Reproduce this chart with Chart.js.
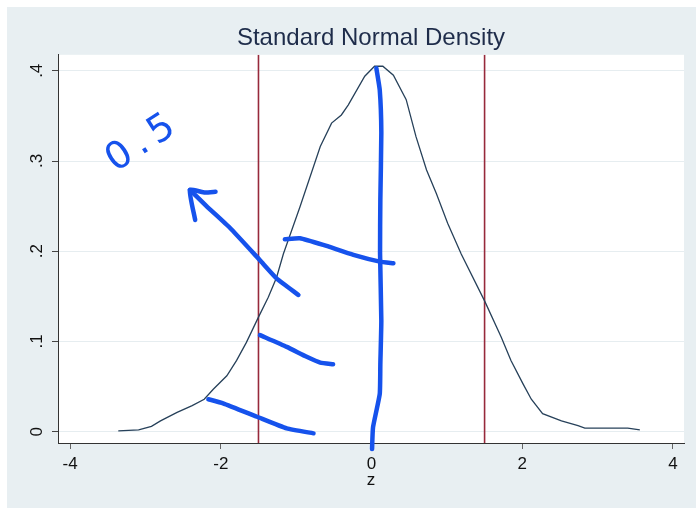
<!DOCTYPE html>
<html>
<head>
<meta charset="utf-8">
<title>Standard Normal Density</title>
<script src="https://cdn.jsdelivr.net/npm/chart.js@4/dist/chart.umd.min.js"></script>
<style>
  html, body { margin: 0; padding: 0; background: #fff; }
  canvas { display: block; }
</style>
</head>
<body>
<canvas id="chart" width="696" height="508"></canvas>
<script>
// density curve
const densityX = [-3.36, -3.09, -2.92, -2.80, -2.58, -2.38, -2.22, -2.10, -1.92, -1.79, -1.66, -1.50, -1.37, -1.26, -1.17,
                  -0.95, -0.68, -0.53, -0.40, -0.31, -0.09, 0.04, 0.15, 0.29, 0.46, 0.59, 0.73, 0.86, 1.01, 1.19,
                  1.50, 1.72, 1.85, 2.01, 2.12, 2.27, 2.52, 2.74, 2.83, 3.40, 3.56];
const densityY = [0.001, 0.002, 0.006, 0.012, 0.0215, 0.029, 0.036, 0.047, 0.062, 0.079, 0.099, 0.127, 0.149, 0.171, 0.197,
                  0.249, 0.316, 0.342, 0.351, 0.362, 0.394, 0.405, 0.405, 0.395, 0.368, 0.327, 0.290, 0.264, 0.231, 0.197,
                  0.145, 0.105, 0.079, 0.053, 0.036, 0.020, 0.012, 0.0067, 0.004, 0.004, 0.002];

// vertical reference lines
const cutoffs = [-1.5, 1.5];

const xTicks = [-4, -2, 0, 2, 4];
const yTicks = [0, 0.1, 0.2, 0.3, 0.4];

// hand-drawn pen marks on top of the graph, as [z, density]
const penArrow = [[-0.97, 0.1516], [-1.26, 0.170], [-1.48, 0.190], [-1.88, 0.226], [-2.19, 0.250], [-2.41, 0.268]];
const penArrowHead = [[-2.34, 0.2347], [-2.41, 0.268], [-2.21, 0.265], [-2.07, 0.266]];
const penUpper = [[-1.15, 0.2133], [-0.95, 0.2144], [-0.64, 0.207], [-0.24, 0.196], [0.11, 0.1885], [0.29, 0.1867]];
const penMiddle = [[-1.48, 0.107], [-1.125, 0.094], [-0.86, 0.083], [-0.68, 0.0765], [-0.51, 0.0747]];
const penLower = [[-2.165, 0.036], [-1.97, 0.0315], [-1.52, 0.0166], [-1.125, 0.0037], [-0.77, -0.0018]];
const penVertical = [[0.064, 0.4029], [0.109, 0.3788], [0.130, 0.3312], [0.117, 0.2569], [0.113, 0.1981],
                     [0.130, 0.1231], [0.117, 0.0751], [0.109, 0.0418], [0.020, 0.0049], [0.007, -0.0192]];
const penNote = { text: '0.5', x: -3.02, y: 0.321 };

const xMin = -4.16, xMax = 4.146;
const yMin = -0.0125, yMax = 0.4177;

const outerBg = '#e8eff2';
const penBlue = '#1652ec';

function toPoints(pairs) {
    return pairs.map(p => ({ x: p[0], y: p[1] }));
}

function penDataset(pairs) {
    return {
        data: toPoints(pairs),
        borderColor: penBlue,
        borderWidth: 4.5,
        borderCapStyle: 'round',
        borderJoinStyle: 'round',
        tension: 0.15,
        pointRadius: 0,
        clip: false,
        order: 0
    };
}

const paperPlugin = {
    id: 'paper',
    beforeDraw(chart) {
        const { ctx, chartArea: a } = chart;
        ctx.save();
        ctx.fillStyle = '#fff';
        ctx.fillRect(0, 0, chart.width, chart.height);
        ctx.fillStyle = outerBg;
        ctx.fillRect(7, 7, chart.width - 7, chart.height - 7);
        ctx.fillStyle = '#fff';
        ctx.fillRect(a.left, a.top, a.right - a.left, a.bottom - a.top);
        ctx.restore();
    },
    afterDatasetsDraw(chart) {
        // handwritten note
        const { ctx, scales } = chart;
        const px = scales.x.getPixelForValue(penNote.x);
        const py = scales.y.getPixelForValue(penNote.y);
        ctx.save();
        ctx.translate(px, py);
        ctx.rotate(-33 * Math.PI / 180);
        ctx.font = '38px "DejaVu Sans"';
        ctx.letterSpacing = '7px';
        ctx.textAlign = 'center';
        ctx.textBaseline = 'middle';
        ctx.fillStyle = penBlue;
        ctx.fillText(penNote.text, 0, 0);
        ctx.restore();
    }
};

const cutoffSets = cutoffs.map(c => ({
    data: [{ x: c, y: yMin }, { x: c, y: yMax }],
    borderColor: '#97293b',
    borderWidth: 1.6,
    pointRadius: 0,
    order: 2
}));

new Chart(document.getElementById('chart'), {
    type: 'line',
    data: {
        datasets: [
            {
                data: densityX.map((x, i) => ({ x: x, y: densityY[i] })),
                borderColor: '#27415a',
                borderWidth: 1.3,
                tension: 0,
                pointRadius: 0,
                order: 1
            },
            ...cutoffSets,
            penDataset(penArrow),
            penDataset(penArrowHead),
            penDataset(penUpper),
            penDataset(penMiddle),
            penDataset(penLower),
            penDataset(penVertical)
        ]
    },
    options: {
        responsive: false,
        animation: false,
        events: [],
        layout: { padding: { top: 0, right: 12, bottom: 0, left: 0 } },
        plugins: {
            legend: { display: false },
            tooltip: { enabled: false },
            title: {
                display: true,
                fullSize: false,
                text: 'Standard Normal Density',
                color: '#1e2c4a',
                font: { family: '"Liberation Sans", Arial, sans-serif', size: 24, weight: 'normal' },
                padding: { top: 24, bottom: 2 }
            }
        },
        scales: {
            x: {
                type: 'linear',
                min: xMin,
                max: xMax,
                afterBuildTicks: scale => { scale.ticks = xTicks.map(v => ({ value: v })); },
                afterFit: scale => { scale.height = 65; },
                grid: { drawOnChartArea: false, drawTicks: true, tickLength: 6, tickColor: '#666', tickWidth: 1 },
                border: { color: '#333', width: 1 },
                ticks: {
                    color: '#111',
                    padding: 5,
                    maxRotation: 0,
                    font: { family: '"Liberation Sans", Arial, sans-serif', size: 17 },
                    callback: v => String(v)
                },
                title: {
                    display: true,
                    text: 'z',
                    color: '#111',
                    font: { family: '"Liberation Sans", Arial, sans-serif', size: 17 },
                    padding: { top: 0, bottom: 17 }
                }
            },
            y: {
                type: 'linear',
                min: yMin,
                max: yMax,
                afterBuildTicks: scale => { scale.ticks = yTicks.map(v => ({ value: v })); },
                afterFit: scale => { scale.width = 58; },
                grid: { color: '#e6edf0', lineWidth: 1, drawTicks: true, tickLength: 6, tickColor: '#444', tickWidth: 1 },
                border: { color: '#333', width: 1 },
                ticks: {
                    color: '#111',
                    padding: 8,
                    minRotation: 90,
                    maxRotation: 90,
                    crossAlign: 'center',
                    font: { family: '"Liberation Sans", Arial, sans-serif', size: 17 },
                    callback: v => v === 0 ? '0' : v.toFixed(1).replace(/^0/, '')
                }
            }
        }
    },
    plugins: [paperPlugin]
});
</script>
</body>
</html>
